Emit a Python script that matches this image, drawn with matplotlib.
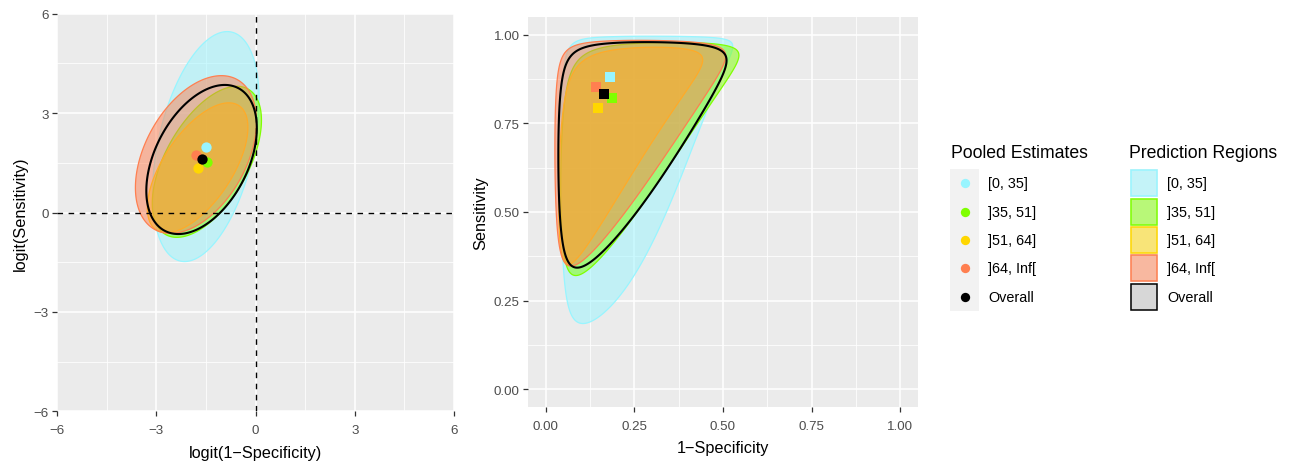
import matplotlib

matplotlib.use("Agg")
import matplotlib.pyplot as plt
import numpy as np
from matplotlib.colors import to_rgba
from matplotlib.patches import Polygon, Rectangle

plt.rcParams["font.family"] = ["Liberation Sans", "DejaVu Sans"]

# subgroup labels and colours
GROUPS = ["[0, 35]", "]35, 51]", "]51, 64]", "]64, Inf[", "Overall"]
COLORS = ["#98F5FF", "#7FFF00", "#FFD700", "#FF7F50", "#000000"]

# pooled estimates on the logit scale
POOLED_X = [-1.50, -1.47, -1.75, -1.80, -1.63]   # logit(1-specificity)
POOLED_Y = [1.99, 1.53, 1.35, 1.75, 1.60]        # logit(sensitivity)

# prediction regions: half-width, half-height and correlation of each ellipse
HALF_W = [1.61, 1.65, 1.52, 1.83, 1.67]
HALF_H = [3.47, 2.28, 1.96, 2.38, 2.25]
RHO = [0.40, 0.55, 0.62, 0.42, 0.42]

LOGIT_TICKS = [-6, -3, 0, 3, 6]
ROC_TICKS = [0.0, 0.25, 0.5, 0.75, 1.0]

W, H = 1295, 464


def ellipse(i, n=400):
    t = np.linspace(0, 2 * np.pi, n)
    x = POOLED_X[i] + HALF_W[i] * np.cos(t)
    y = POOLED_Y[i] + HALF_H[i] * (RHO[i] * np.cos(t) + np.sqrt(1 - RHO[i] ** 2) * np.sin(t))
    return x, y


def expit(v):
    return 1.0 / (1.0 + np.exp(-np.asarray(v)))


def gg_axes(ax, ticks, minor, lim, fmt):
    ax.set_facecolor("#EBEBEB")
    ax.set_xlim(*lim)
    ax.set_ylim(*lim)
    ax.set_xticks(ticks)
    ax.set_yticks(ticks)
    ax.set_xticklabels([fmt(v) for v in ticks])
    ax.set_yticklabels([fmt(v) for v in ticks])
    for v in minor:
        ax.axvline(v, color="white", lw=0.55, zorder=0.5)
        ax.axhline(v, color="white", lw=0.55, zorder=0.5)
    for v in ticks:
        ax.axvline(v, color="white", lw=1.1, zorder=0.6)
        ax.axhline(v, color="white", lw=1.1, zorder=0.6)
    for s in ax.spines.values():
        s.set_visible(False)
    ax.tick_params(length=3.5, width=0.9, color="#333333", labelcolor="#4D4D4D",
                   labelsize=9.6)
    ax.tick_params(axis="x", pad=5.8)
    ax.tick_params(axis="y", pad=2.5)


def draw_regions(ax, transform):
    for i, c in enumerate(COLORS):
        x, y = ellipse(i)
        xy = np.column_stack([transform(x), transform(y)])
        if GROUPS[i] == "Overall":
            ax.add_patch(Polygon(xy, closed=True, fill=False, edgecolor="black",
                                 lw=1.5, zorder=3))
        else:
            ax.add_patch(Polygon(xy, closed=True, facecolor=to_rgba(c, 0.5),
                                 edgecolor=c, lw=0.9, zorder=2 + i * 0.01))


fig = plt.figure(figsize=(W / 100, H / 100), dpi=100)

# left panel: logit space
ax1 = fig.add_axes([57 / W, 1 - 412.3 / H, 397 / W, 397.6 / H])
gg_axes(ax1, LOGIT_TICKS, [-4.5, -1.5, 1.5, 4.5], (-6, 6),
        lambda v: f"{v:g}".replace("-", "\u2212"))
draw_regions(ax1, lambda v: v)
ax1.axhline(0, color="black", lw=1.0, ls=(0, (4, 4)), zorder=4)
ax1.axvline(0, color="black", lw=1.0, ls=(0, (4, 4)), zorder=4)
for i, c in enumerate(COLORS):
    ax1.scatter(POOLED_X[i], POOLED_Y[i], s=55, color=c, zorder=5 + i * 0.01, linewidths=0)
ax1.set_xlabel("logit(1\u2212Specificity)", fontsize=11.7, labelpad=6)
ax1.set_ylabel("logit(Sensitivity)", fontsize=11.7, labelpad=4)

# right panel: ROC space
ax2 = fig.add_axes([528 / W, 1 - 408 / H, 390 / W, 390 / H])
gg_axes(ax2, ROC_TICKS, [0.125, 0.375, 0.625, 0.875], (-0.05, 1.05), lambda v: f"{v:.2f}")
draw_regions(ax2, expit)
for i, c in enumerate(COLORS):
    ax2.scatter(expit(POOLED_X[i]), expit(POOLED_Y[i]), s=50, marker="s", color=c,
                zorder=5 + i * 0.01, linewidths=0)
ax2.set_xlabel("1\u2212Specificity", fontsize=11.7, labelpad=6)
ax2.set_ylabel("Sensitivity", fontsize=11.7, labelpad=4)

# legends, laid out in figure pixels
lg = fig.add_axes([0, 0, 1, 1])
lg.set_xlim(0, W)
lg.set_ylim(H, 0)
lg.axis("off")
rows = [184.3, 212.7, 241.0, 269.3, 297.7]

lg.text(951, 154, "Pooled Estimates", fontsize=12.7, va="center", ha="left")
lg.add_patch(Rectangle((950, 169.5), 29, 142, facecolor="#F2F2F2", edgecolor="none"))
for yc, c, lab in zip(rows, COLORS, GROUPS):
    lg.scatter(965, yc, s=45, color=c, linewidths=0)
    lg.text(988, yc, lab, fontsize=10.4, va="center", ha="left")

lg.text(1129, 154, "Prediction Regions", fontsize=12.7, va="center", ha="left")
for yc, c, lab in zip(rows, COLORS, GROUPS):
    lg.add_patch(Rectangle((1130, yc - 14), 28, 28, facecolor="#F2F2F2", edgecolor="none"))
    fc = "#BEBEBE" if lab == "Overall" else c
    lg.add_patch(Rectangle((1131, yc - 13), 26, 26, facecolor=to_rgba(fc, 0.5),
                           edgecolor=c, lw=1.1))
    lg.text(1167, yc, lab, fontsize=10.4, va="center", ha="left")

fig.savefig("out.png", dpi=100)
